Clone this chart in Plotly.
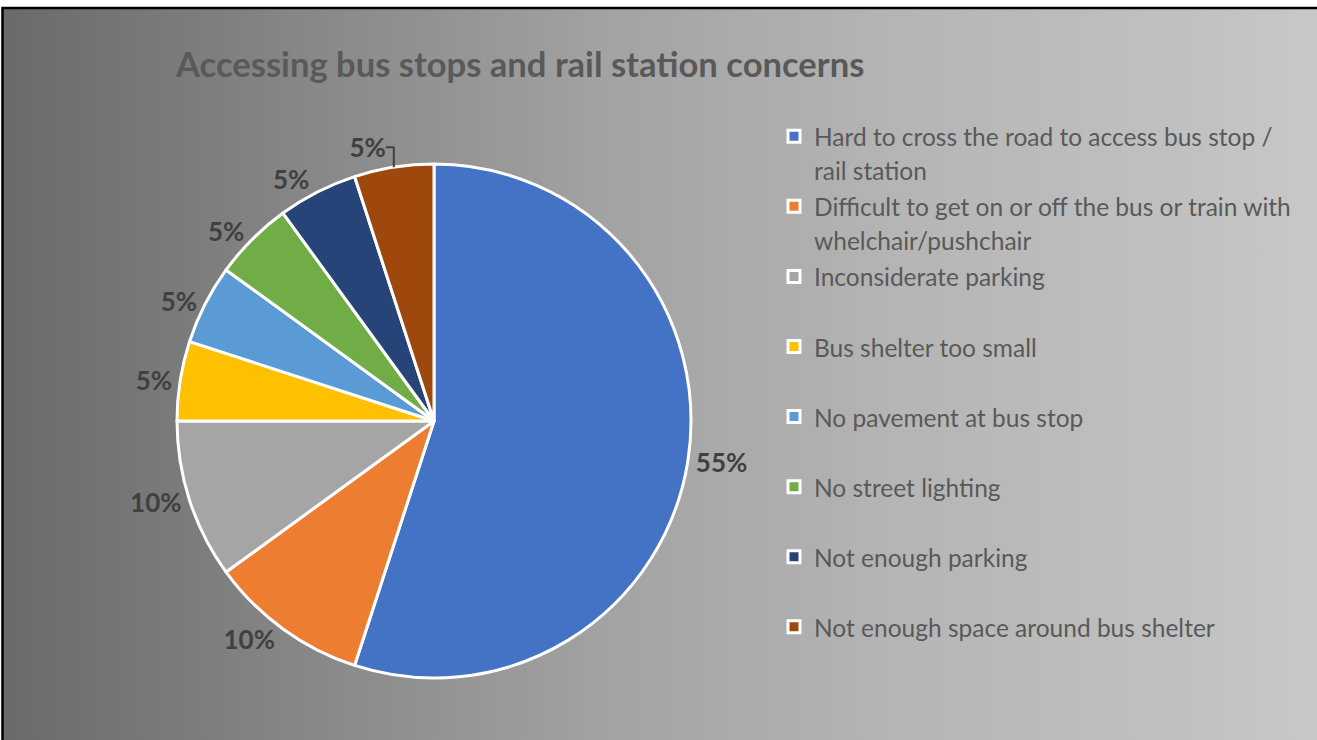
import base64
import plotly.graph_objects as go

categories = [
    "Hard to cross the road to access bus stop /<br>rail station",
    "Difficult to get on or off the bus or train with<br>whelchair/pushchair",
    "Inconsiderate parking",
    "Bus shelter too small",
    "No pavement at bus stop",
    "No street lighting",
    "Not enough parking",
    "Not enough space around bus shelter",
]
values = [55, 10, 10, 5, 5, 5, 5, 5]
colors = ["#4472C4", "#ED7D31", "#A5A5A5", "#FFC000", "#5B9BD5", "#70AD47", "#264478", "#9E480E"]
title_text = "Accessing bus stops and rail station concerns"

W, H = 1317, 740


# legend labels: every entry occupies two lines (uniform spacing), text slightly smaller
def legend_label(c):
    lines = c.split("<br>")
    if len(lines) == 1:
        lines.append("\u00a0")
    return "<br>".join(f'<span style="font-size:24.5px">{ln}</span>' for ln in lines)


legend_labels = [legend_label(c) for c in categories]

# background gradient (horizontal, dark left -> light right)
stops = [(0.0, "#6a6a6a"), (0.23, "#878787"), (0.455, "#a2a2a2"), (0.685, "#b5b5b5"), (0.91, "#c1c1c1"), (1.0, "#c8c8c8")]
stop_xml = "".join(f'<stop offset="{o}" stop-color="{c}"/>' for o, c in stops)
svg = (
    '<svg xmlns="http://www.w3.org/2000/svg" width="1000" height="100" viewBox="0 0 1000 100" '
    'preserveAspectRatio="none">'
    f'<defs><linearGradient id="g" x1="0" y1="0" x2="1" y2="0">{stop_xml}</linearGradient></defs>'
    '<rect x="0" y="0" width="1000" height="100" fill="url(#g)"/></svg>'
)
svg_uri = "data:image/svg+xml;base64," + base64.b64encode(svg.encode()).decode()

fig = go.Figure()
fig.add_trace(go.Pie(
    labels=legend_labels,
    values=values,
    sort=False,
    direction="clockwise",
    rotation=0,
    marker=dict(colors=colors, line=dict(color="white", width=3)),
    texttemplate="%{percent:.0%}",
    textposition="outside",
    textfont=dict(family="Lato", size=26, color="#404040", weight="bold"),
    hoverinfo="percent",
    domain=dict(x=[177 / W, 691 / W], y=[62 / H, 576 / H]),
))

fig.update_layout(
    width=W, height=H,
    margin=dict(l=0, r=0, t=0, b=0, autoexpand=False),
    paper_bgcolor="white",
    plot_bgcolor="rgba(0,0,0,0)",
    showlegend=True,
    legend=dict(
        x=774 / W, xanchor="left",
        y=1 - 113 / H, yanchor="top",
        font=dict(family="Lato", size=25.8, color="#595959"),
        bgcolor="rgba(0,0,0,0)",
        valign="top",
        traceorder="normal",
    ),
    annotations=[dict(
        text=f"<b>{title_text}</b>",
        x=173 / W, xref="paper", xanchor="left",
        y=1 - 63 / H, yref="paper", yanchor="middle",
        showarrow=False,
        font=dict(family="Lato", size=34.6, color="#595959"),
    )],
    images=[dict(
        source=svg_uri, xref="paper", yref="paper",
        x=3 / W, y=1 - 9 / H, sizex=1 - 3 / W, sizey=1 - 9 / H,
        xanchor="left", yanchor="top", sizing="stretch", layer="below",
    )],
    shapes=[dict(
        type="rect", xref="paper", yref="paper",
        x0=2.5 / W, x1=1.02, y0=-0.02, y1=1 - 8 / H,
        line=dict(color="black", width=2.5), fillcolor="rgba(0,0,0,0)",
    )],
)

fig.write_html(
    "out.html",
    config={"displayModeBar": False},
    post_script=(
        "document.body.style.margin='0';"
        "document.body.style.overflow='hidden';"
        "document.documentElement.style.overflow='hidden';"
    ),
)
